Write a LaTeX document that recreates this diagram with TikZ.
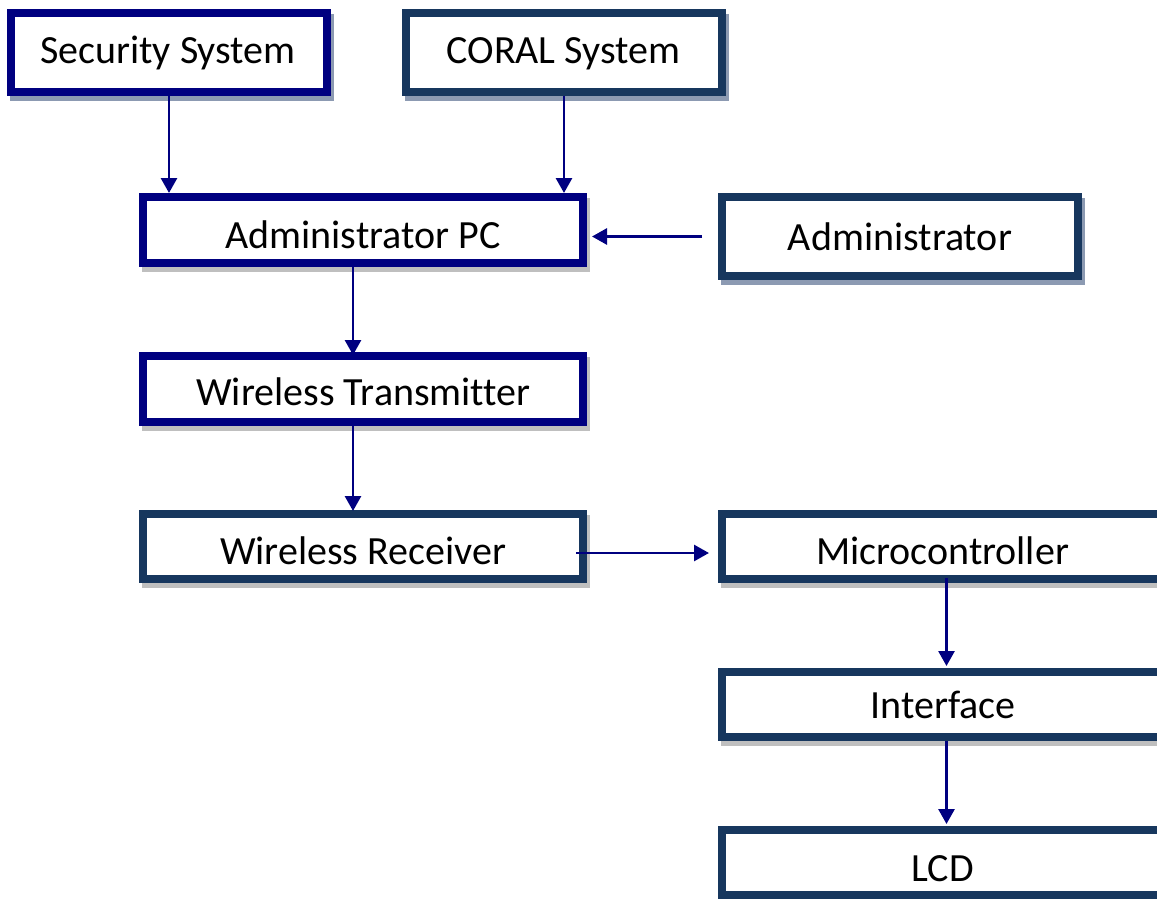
\documentclass[tikz,border=0pt]{standalone}
\usepackage{fontspec}
\setmainfont{Carlito}[Ligatures=NoCommon]
\usetikzlibrary{arrows.meta,backgrounds,calc}

\definecolor{navyline}{HTML}{000080}
\definecolor{slateline}{HTML}{17375E}
\definecolor{blueshade}{HTML}{8C9AB2}
\definecolor{greyshade}{HTML}{BFBFBF}

\tikzset{
  frame/.style={draw=#1, line width=8pt, fill=white, inner sep=0pt},
  label text/.style={anchor=base, inner sep=0pt, font=\fontsize{40}{48}\selectfont},
  flow/.style={draw=navyline, line width=2.8pt,
    -{Triangle[width=16pt,length=15pt]}},
}

\begin{document}
\begin{tikzpicture}[x=1pt, y=-1pt]
  \useasboundingbox (0,0) rectangle (1157,899);

  % frames
  \node[frame=navyline,  minimum width=316pt, minimum height=79pt] (sec)   at (169,52.5)  {};
  \node[frame=slateline, minimum width=316pt, minimum height=79pt] (coral) at (564,52.5)  {};
  \node[frame=navyline,  minimum width=440pt, minimum height=66pt] (apc)   at (363,230)   {};
  \node[frame=slateline, minimum width=356pt, minimum height=79pt] (adm)   at (900,236.5) {};
  \node[frame=navyline,  minimum width=440pt, minimum height=66pt] (wtx)   at (363,389)   {};
  \node[frame=slateline, minimum width=440pt, minimum height=65pt] (wrx)   at (363,546.5) {};
  \node[frame=slateline, minimum width=474pt, minimum height=65pt] (mcu)   at (959,546.5) {};
  \node[frame=slateline, minimum width=474pt, minimum height=65pt] (ifc)   at (959,704.5) {};
  \node[frame=slateline, minimum width=474pt, minimum height=65pt] (lcd)   at (959,862.5) {};

  % offset shadows behind the frames
  \begin{scope}[on background layer]
    \foreach \n/\c in {sec/blueshade, coral/blueshade, adm/blueshade,
                       apc/greyshade, wtx/greyshade, wrx/greyshade,
                       mcu/greyshade, ifc/greyshade, lcd/greyshade}
      \fill[\c] ([shift={(3,5)}]\n.north west) rectangle ([shift={(3,5)}]\n.south east);
  \end{scope}

  % labels
  \node[label text] (secT)   at (168,64)    {Security System};
  \node[label text] (coralT) at (563.5,64)  {CORAL System};
  \node[label text] (apcT)   at (363,248)   {Administrator PC};
  \node[label text] (admT)   at (900,250)   {Administrator};
  \node[label text] (wtxT)   at (363.5,405) {Wireless Transmitter};
  \node[label text] (wrxT)   at (363,564)   {Wireless Receiver};
  \node[label text] (mcuT)   at (942.5,564) {Microcontroller};
  \node[label text] (ifcT)   at (943,718)   {Interface};
  \node[label text] (lcdT)   at (942.5,881) {LCD};

  % connectors
  \draw[flow] (sec.south) -- (sec.south |- apc.north);
  \draw[flow] (coral.south) -- (coral.south |- apc.north);
  \draw[flow] ($(adm.west)+(-16,0)$) -- ($(adm.west -| apc.east)+(5,0)$);
  \draw[flow] ([xshift=-10pt]apc.south) -- ([shift={(-10,3)}]wtx.north);
  \draw[flow] ([xshift=-10pt]wtx.south) -- ([shift={(-10,1)}]wrx.north);
  \draw[flow] ([shift={(-11,6.5)}]wrx.east) -- ([shift={(-9,6.5)}]mcu.west);
  \draw[flow] ([shift={(-12.5,-5)}]mcu.south) -- ([shift={(-12.5,-2)}]ifc.north);
  \draw[flow] ([shift={(-12.5,0)}]ifc.south) -- ([shift={(-12.5,-2)}]lcd.north);
\end{tikzpicture}
\end{document}
